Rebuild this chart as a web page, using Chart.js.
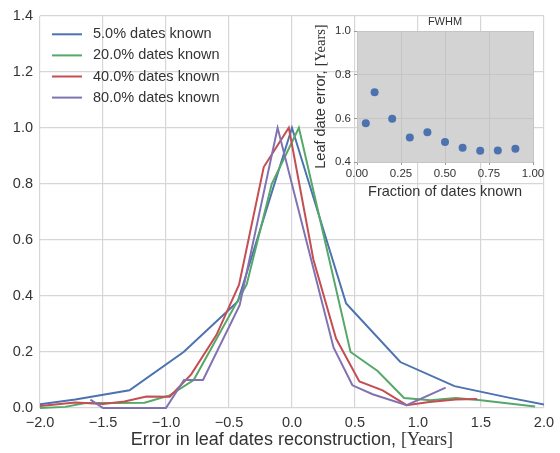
<!DOCTYPE html>
<html>
<head>
<meta charset="utf-8">
<script src="https://cdn.jsdelivr.net/npm/chart.js@4/dist/chart.umd.min.js"></script>
<style>
  body { margin: 0; background: #fff; }
  #wrap { position: relative; width: 560px; height: 453px; }
  #wrap canvas { position: absolute; }
</style>
</head>
<body>
<div id="wrap">
  <canvas id="main" width="560" height="453" style="left:0;top:0;width:560px;height:453px"></canvas>
  <canvas id="inset" width="260" height="205" style="left:300px;top:0;width:260px;height:205px"></canvas>
</div>
<script>
// error of the reconstructed leaf dates (years) and normalised frequency, one pair per series
const errX05 = [-2.15, -1.72, -1.29, -0.86, -0.43, 0.0, 0.43, 0.86, 1.29, 1.72, 2.15];
const freq05 = [0.005, 0.03, 0.063, 0.20, 0.38, 1.0, 0.373, 0.164, 0.078, 0.037, 0.0];

const errX20 = [-2.0, -1.8, -1.64, -1.4, -1.17, -0.97, -0.78, -0.36, -0.16, 0.055, 0.465, 0.68, 0.89, 1.1, 1.3, 1.5, 1.93];
const freq20 = [0.0, 0.004, 0.018, 0.018, 0.019, 0.045, 0.10, 0.44, 0.80, 1.0, 0.20, 0.132, 0.036, 0.028, 0.036, 0.028, 0.005];

const errX40 = [-2.05, -1.72, -1.5, -1.33, -1.155, -0.97, -0.8, -0.6, -0.42, -0.224, -0.025, 0.17, 0.35, 0.535, 0.72, 0.91, 1.09, 1.3, 1.47];
const freq40 = [0.005, 0.02, 0.014, 0.023, 0.041, 0.04, 0.12, 0.26, 0.44, 0.86, 1.0, 0.53, 0.248, 0.095, 0.063, 0.01, 0.021, 0.03, 0.032];

const errX80 = [-1.6, -1.5, -1.0, -0.857, -0.706, -0.415, -0.114, 0.33, 0.48, 0.64, 0.91, 1.22];
const freq80 = [0.03, 0.0, 0.0, 0.10, 0.10, 0.367, 1.0, 0.216, 0.081, 0.049, 0.01, 0.073];

const seriesLabels = ['5.0% dates known', '20.0% dates known', '40.0% dates known', '80.0% dates known'];
const mainXTicks = [-2.0, -1.5, -1.0, -0.5, 0.0, 0.5, 1.0, 1.5, 2.0];
const mainYTicks = [0.0, 0.2, 0.4, 0.6, 0.8, 1.0, 1.2, 1.4];

// inset: FWHM of the error vs fraction of dates known
const fracKnown = [0.05, 0.1, 0.2, 0.3, 0.4, 0.5, 0.6, 0.7, 0.8, 0.9];
const fwhm = [0.577, 0.72, 0.598, 0.512, 0.536, 0.492, 0.465, 0.452, 0.453, 0.461];
const insetXTicks = [0.0, 0.25, 0.5, 0.75, 1.0];
const insetYTicks = [0.4, 0.6, 0.8, 1.0];

const colors = ['#4C72B0', '#55A868', '#C44E52', '#8172B2'];
const sans = '"Liberation Sans", Arial, sans-serif';
const serif = '"Liberation Serif", "Times New Roman", serif';
const textColor = '#333333';

function toPoints(xs, ys) {
  return xs.map((x, i) => ({ x: x, y: ys[i] }));
}
function minus(s) {
  return s.replace('-', '\u2212');
}
// axis title with a serif "[Years]" part, like mathtext
function drawUnitTitle(ctx, x, y, size, rotate) {
  const a = 'Error in leaf dates reconstruction, ';
  ctx.save();
  ctx.fillStyle = textColor;
  ctx.textBaseline = 'middle';
  ctx.textAlign = 'left';
  ctx.translate(x, y);
  if (rotate) ctx.rotate(-Math.PI / 2);
  const first = rotate ? 'Leaf date error, ' : a;
  ctx.font = size + 'px ' + sans;
  const w1 = ctx.measureText(first).width;
  ctx.font = size + 'px ' + serif;
  const w2 = ctx.measureText('[Years]').width;
  let start = -(w1 + w2) / 2;
  ctx.font = size + 'px ' + sans;
  ctx.fillText(first, start, 0);
  ctx.font = size + 'px ' + serif;
  ctx.fillText('[Years]', start + w1, 0);
  ctx.restore();
}

const allX = [errX05, errX20, errX40, errX80];
const allY = [freq05, freq20, freq40, freq80];

const datasets = seriesLabels.map((lab, i) => ({
  label: lab,
  data: toPoints(allX[i], allY[i]),
  showLine: true,
  borderColor: colors[i],
  backgroundColor: colors[i],
  borderWidth: 2,
  pointRadius: 0,
  tension: 0,
  order: 4 - i,
  clip: { left: 0, top: 0, right: 0, bottom: 2 }
}));

const legendInside = {
  id: 'legendInside',
  afterDraw(chart) {
    const ctx = chart.ctx;
    ctx.save();
    ctx.font = '14.5px ' + sans;
    ctx.textBaseline = 'middle';
    chart.data.datasets.forEach((ds, i) => {
      const y = 34.3 + i * 21.1;
      ctx.strokeStyle = ds.borderColor;
      ctx.lineWidth = 2;
      ctx.beginPath();
      ctx.moveTo(52, y);
      ctx.lineTo(82, y);
      ctx.stroke();
      ctx.fillStyle = textColor;
      ctx.fillText(ds.label, 93, y);
    });
    ctx.restore();
  }
};

const mainTitle = {
  id: 'mainTitle',
  afterDraw(chart) {
    const a = chart.chartArea;
    drawUnitTitle(chart.ctx, (a.left + a.right) / 2, 440, 18, false);
  }
};

new Chart(document.getElementById('main'), {
  type: 'scatter',
  data: { datasets: datasets },
  options: {
    responsive: false,
    animation: false,
    layout: { padding: { top: 15, right: 15, left: 0, bottom: 0 } },
    plugins: { legend: { display: false }, tooltip: { enabled: false } },
    scales: {
      x: {
        type: 'linear', min: -2, max: 2,
        afterBuildTicks: s => { s.ticks = mainXTicks.map(v => ({ value: v })); },
        afterFit: s => { s.height = 45; },
        grid: { color: '#d6d6d6', lineWidth: 1.2, drawTicks: false },
        border: { display: false },
        ticks: { padding: 6, color: textColor, font: { family: sans, size: 14.5 },
          maxRotation: 0, callback: v => minus(v.toFixed(1)) }
      },
      y: {
        type: 'linear', min: 0, max: 1.4,
        afterBuildTicks: s => { s.ticks = mainYTicks.map(v => ({ value: v })); },
        afterFit: s => { s.width = 40; },
        grid: { color: '#d6d6d6', lineWidth: 1.2, drawTicks: false },
        border: { display: false },
        ticks: { padding: 7, color: textColor, font: { family: sans, size: 14.5 },
          callback: v => v.toFixed(1) }
      }
    }
  },
  plugins: [legendInside, mainTitle]
});

const insetDecor = {
  id: 'insetDecor',
  beforeDraw(chart) {
    const a = chart.chartArea;
    const ctx = chart.ctx;
    ctx.save();
    ctx.fillStyle = '#d3d3d3';
    ctx.fillRect(a.left, a.top, a.right - a.left, a.bottom - a.top);
    ctx.restore();
  },
  afterDraw(chart) {
    const a = chart.chartArea;
    const ctx = chart.ctx;
    const cx = (a.left + a.right) / 2;
    ctx.save();
    ctx.fillStyle = textColor;
    ctx.textAlign = 'center';
    ctx.textBaseline = 'middle';
    ctx.font = '11px ' + sans;
    ctx.fillText('FWHM', cx, 21.5);
    ctx.font = '14.5px ' + sans;
    ctx.fillText('Fraction of dates known', cx, 191.5);
    ctx.restore();
    drawUnitTitle(ctx, 20.7, (a.top + a.bottom) / 2, 14.5, true);
  }
};

new Chart(document.getElementById('inset'), {
  type: 'scatter',
  data: {
    datasets: [{
      label: 'FWHM',
      data: toPoints(fracKnown, fwhm),
      pointRadius: 4,
      pointBorderWidth: 0,
      backgroundColor: '#4C72B0',
      borderColor: '#4C72B0'
    }]
  },
  options: {
    responsive: false,
    animation: false,
    layout: { padding: { top: 31, right: 27, left: 0, bottom: 0 } },
    plugins: { legend: { display: false }, tooltip: { enabled: false } },
    scales: {
      x: {
        type: 'linear', min: 0, max: 1,
        afterBuildTicks: s => { s.ticks = insetXTicks.map(v => ({ value: v })); },
        afterFit: s => { s.height = 43; },
        grid: { color: '#c5c5c5', lineWidth: 1, drawTicks: true, tickLength: 3, tickColor: '#999' },
        border: { display: false },
        ticks: { padding: 2, color: textColor, font: { family: sans, size: 11.5 },
          maxRotation: 0, callback: v => v.toFixed(2) }
      },
      y: {
        type: 'linear', min: 0.4, max: 1.0,
        afterBuildTicks: s => { s.ticks = insetYTicks.map(v => ({ value: v })); },
        afterFit: s => { s.width = 57; },
        grid: { color: '#c5c5c5', lineWidth: 1, drawTicks: true, tickLength: 3, tickColor: '#999' },
        border: { display: false },
        ticks: { padding: 3, color: textColor, font: { family: sans, size: 11.5 },
          callback: v => v.toFixed(1) }
      }
    }
  },
  plugins: [insetDecor]
});
</script>
</body>
</html>
